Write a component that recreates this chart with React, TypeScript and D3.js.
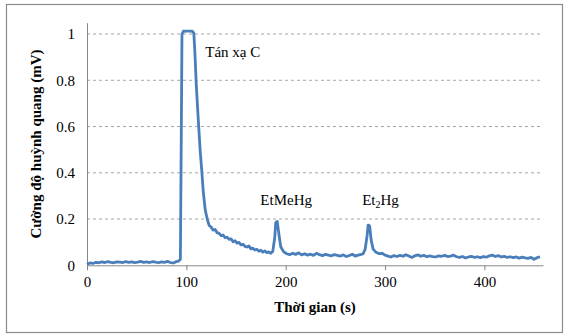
import React, { useEffect, useRef } from 'react';
import * as d3 from 'd3';

// time (s) and fluorescence signal (mV)
const time = [
  0, 3, 6, 9, 12, 15, 18, 21, 24, 27, 30, 33, 36, 39, 42, 45, 48, 51, 54, 57, 60,
  63, 66, 69, 72, 75, 78, 81, 84, 87, 90, 92, 94, 94.8, 95.6, 97, 100, 103, 106, 107.5,
  108.5, 110, 112, 114, 115.5, 117, 119, 121, 123, 125, 127, 129, 131, 133, 135, 137,
  139, 141, 143, 145, 147, 149, 151, 153, 155, 157, 159, 161, 163, 165, 167, 169, 171,
  173, 175, 177, 179, 181, 183, 185, 187, 189, 190,
  191.5, 193, 195, 198, 201, 204, 207, 210, 213, 216, 219, 222, 225, 228, 231, 234, 237,
  240, 243, 246, 249, 252, 255, 258, 261, 264, 267, 270, 273, 276, 278, 280, 282, 283,
  284.5, 286, 288, 291, 294, 297, 300, 303, 306, 309, 312, 315, 318, 321, 324, 327, 330,
  333, 336, 339, 342, 345, 348, 351, 354, 357, 360, 363, 366, 369, 372, 375, 378, 381,
  384, 387, 390, 393, 396, 399, 402, 405, 408, 411, 414, 417, 420, 423, 426, 429, 432,
  435, 438, 441, 444, 447, 450, 453, 456,
];
const signal = [
  0.004, 0.010, 0.008, 0.013, 0.011, 0.015, 0.012, 0.016, 0.013, 0.011, 0.015, 0.014,
  0.012, 0.016, 0.013, 0.015, 0.012, 0.014, 0.017, 0.013, 0.015, 0.012, 0.016, 0.014,
  0.011, 0.015, 0.013, 0.017, 0.012, 0.010, 0.016, 0.018, 0.025, 0.5, 1.0, 1.012, 1.013,
  1.013, 1.012, 1.005, 0.93, 0.78, 0.63, 0.49, 0.41, 0.32, 0.24, 0.2, 0.172, 0.165, 0.152,
  0.155, 0.141, 0.138, 0.128, 0.131, 0.119, 0.122, 0.112, 0.114, 0.102, 0.106, 0.096,
  0.099, 0.088, 0.091, 0.082, 0.079, 0.084, 0.071, 0.074, 0.066, 0.069, 0.061, 0.065,
  0.057, 0.062, 0.055, 0.058, 0.052, 0.06, 0.12, 0.185, 0.19, 0.14, 0.08, 0.058,
  0.05, 0.046, 0.052, 0.047, 0.054, 0.045, 0.05, 0.044, 0.048, 0.043, 0.052, 0.046,
  0.042, 0.047, 0.044, 0.041, 0.046, 0.043, 0.040, 0.045, 0.038, 0.042, 0.048, 0.040,
  0.044, 0.047, 0.05, 0.07, 0.13, 0.174, 0.17, 0.11, 0.07, 0.056, 0.05, 0.052, 0.044,
  0.040, 0.036, 0.042, 0.038, 0.043, 0.039, 0.046, 0.040, 0.034, 0.041, 0.045, 0.039,
  0.043, 0.037, 0.041, 0.038, 0.036, 0.041, 0.039, 0.043, 0.038, 0.04, 0.044, 0.037,
  0.034, 0.038, 0.032, 0.036, 0.039, 0.034, 0.037, 0.033, 0.038, 0.035, 0.041, 0.044,
  0.038, 0.042, 0.036, 0.039, 0.034, 0.037, 0.033, 0.036, 0.031, 0.035, 0.032, 0.030,
  0.034, 0.026, 0.033, 0.036, 0.030,
];
const xTicks = [0, 100, 200, 300, 400];
const yTicks = [0, 0.2, 0.4, 0.6, 0.8, 1];
const peakLabels = [
  { t: 119, v: 0.9, text: 'Tán xạ C' },
  { t: 174.5, v: 0.26, text: 'EtMeHg' },
  { t: 277, v: 0.26, text: 'Et', sub: '2', after: 'Hg' },
];

const W = 566;
const H = 336;

const App = () => {
  const svgRef = useRef<SVGSVGElement>(null);

  useEffect(() => {
    const svg = d3.select(svgRef.current);
    svg.selectAll('*').remove();

    const margin = { top: 22.7, right: 23, bottom: 70.7, left: 87 };
    const font = "'Liberation Serif', 'DejaVu Serif', serif";

    svg.append('rect')
      .attr('x', 6.5).attr('y', 4.5)
      .attr('width', 556).attr('height', 328)
      .attr('fill', '#fff')
      .attr('stroke', '#8c8c8c')
      .attr('stroke-width', 1.2);

    const x = d3.scaleLinear().domain([0, 459]).range([margin.left, W - margin.right]);
    const y = d3.scaleLinear().domain([0, 1.049]).range([H - margin.bottom, margin.top]);

    // Grid lines
    svg.append('g')
      .selectAll('line')
      .data(yTicks.filter(d => d > 0))
      .join('line')
      .attr('x1', x(0)).attr('x2', x(459))
      .attr('y1', d => y(d)).attr('y2', d => y(d))
      .attr('stroke', '#a6a6a6')
      .attr('stroke-dasharray', '3,3')
      .attr('stroke-width', 1);

    // Axes
    svg.append('g')
      .attr('transform', `translate(0,${y(0)})`)
      .call(d3.axisBottom(x).tickValues(xTicks).tickSize(5).tickSizeOuter(0).tickPadding(6).tickFormat(d3.format('d')))
      .call(g => g.attr('font-family', null))
      .call(g => g.select('.domain').attr('stroke', '#868686'))
      .call(g => g.selectAll('.tick line').attr('stroke', '#868686'))
      .call(g => g.selectAll('text').style('font-family', font).style('font-size', '15px').attr('fill', '#000'));

    svg.append('g')
      .attr('transform', `translate(${x(0)},0)`)
      .call(d3.axisLeft(y).tickValues(yTicks).tickSize(0).tickSizeOuter(0).tickPadding(12).tickFormat(d => (d === 0 || d === 1 ? String(d) : d3.format('.1f')(d as number))))
      .call(g => g.attr('font-family', null))
      .call(g => g.select('.domain').attr('stroke', '#868686'))
      .call(g => g.selectAll('text').style('font-family', font).style('font-size', '15px').attr('fill', '#000'));

    // Axis titles
    svg.append('text')
      .attr('x', (x(0) + x(459)) / 2)
      .attr('y', 312)
      .attr('text-anchor', 'middle')
      .style('font-family', font)
      .style('font-weight', 'bold')
      .style('font-size', '15px')
      .text('Thời gian (s)');

    svg.append('text')
      .attr('transform', `translate(41,${(y(0) + y(1.049)) / 2}) rotate(-90)`)
      .attr('text-anchor', 'middle')
      .style('font-family', font)
      .style('font-weight', 'bold')
      .style('font-size', '15px')
      .text('Cường độ huỳnh quang (mV)');

    // Trace
    const line = d3.line<number>()
      .x((_, i) => x(time[i]))
      .y(d => y(d));

    svg.append('path')
      .datum(signal)
      .attr('fill', 'none')
      .attr('stroke', '#4a7ebb')
      .attr('stroke-width', 2.8)
      .attr('stroke-linejoin', 'round')
      .attr('d', line);

    // Peak labels
    peakLabels.forEach(p => {
      const t = svg.append('text')
        .attr('x', x(p.t))
        .attr('y', y(p.v))
        .style('font-family', font)
        .style('font-size', '15px')
        .attr('fill', '#000')
        .text(p.text);
      if (p.sub) {
        t.append('tspan').style('font-size', '10px').attr('dy', 3).text(p.sub);
        t.append('tspan').attr('dy', -3).text(p.after);
      }
    });
  }, []);

  return (
    <svg ref={svgRef} width={W} height={H} style={{ position: 'absolute', left: 0, top: 0 }} />
  );
};

export default App;
